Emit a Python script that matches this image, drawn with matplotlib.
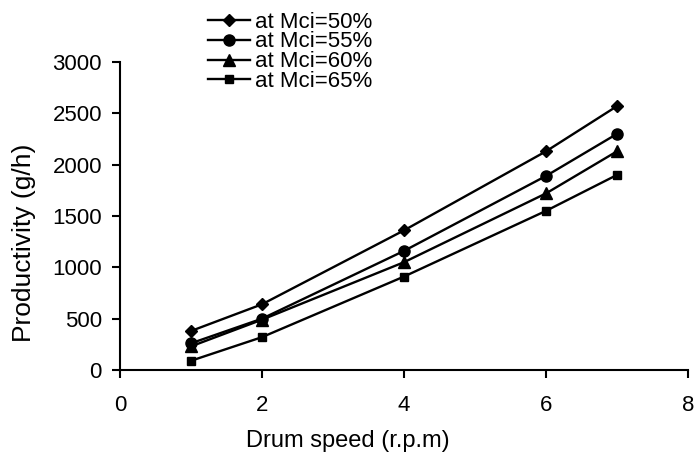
import matplotlib
matplotlib.use("Agg")
import matplotlib.pyplot as plt

plt.rcParams['font.family'] = ['Liberation Sans', 'DejaVu Sans']

speed = [1, 2, 4, 6, 7]
labels = ["at Mci=50%", "at Mci=55%", "at Mci=60%", "at Mci=65%"]
mci50 = [380, 640, 1360, 2130, 2570]
mci55 = [260, 500, 1160, 1890, 2300]
mci60 = [230, 490, 1050, 1720, 2130]
mci65 = [90, 320, 910, 1550, 1900]
series = [mci50, mci55, mci60, mci65]
markers = ['D', 'o', '^', 's']
msizes = [6.5, 8, 8, 6]

xticks = [0, 2, 4, 6, 8]
yticks = [0, 500, 1000, 1500, 2000, 2500, 3000]

fig = plt.figure(figsize=(6.96, 4.61), dpi=100)
ax = fig.add_axes([120/696, 1-370/461, 568/696, 308/461])

for vals, lab, mk, ms in zip(series, labels, markers, msizes):
    ax.plot(speed, vals, color='black', lw=1.7, marker=mk, ms=ms, label=lab)

ax.set_xlim(0, 8)
ax.set_ylim(0, 3000)
ax.set_xticks(xticks)
ax.set_yticks(yticks)
ax.spines['top'].set_visible(False)
ax.spines['right'].set_visible(False)
ax.spines['left'].set_linewidth(1.5)
ax.spines['bottom'].set_linewidth(1.5)
ax.tick_params(axis='both', direction='out', width=1.5, length=6, labelsize=16, color='black')
ax.tick_params(axis='x', pad=12)
ax.tick_params(axis='y', pad=7)

ax.set_xlabel("Drum speed (r.p.m)", fontsize=17)
ax.xaxis.set_label_coords((348-120)/568, -0.195)
ax.set_ylabel("Productivity (g/h)", fontsize=19)
ax.yaxis.set_label_coords(-(120-36)/568, (370-243)/308)

leg = fig.legend(loc='upper left', bbox_to_anchor=(192/696, 1+4/461), frameon=False,
                 fontsize=16, labelspacing=-0.05, handlelength=1.9, handletextpad=0.25,
                 borderpad=0.2)

fig.savefig("out.png", dpi=100)
